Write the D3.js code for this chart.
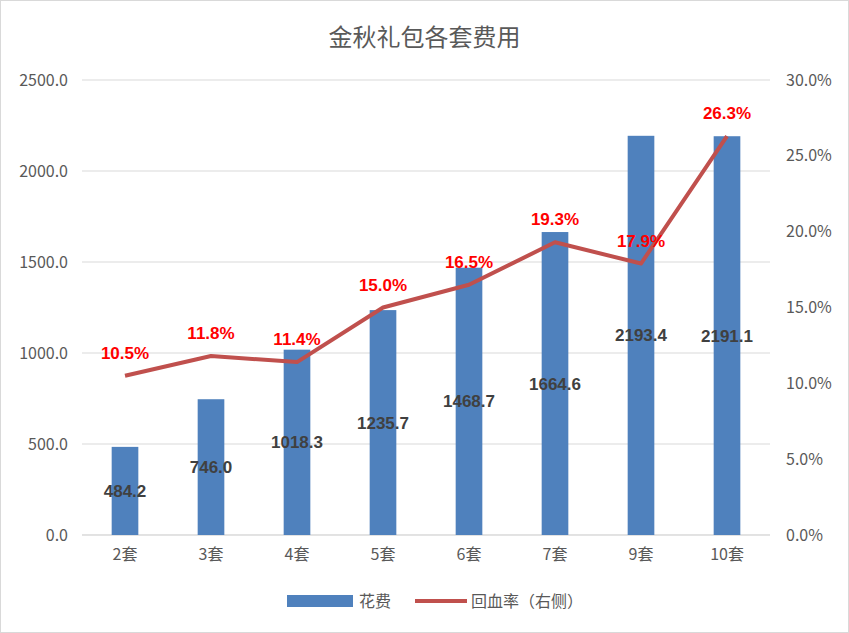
<!DOCTYPE html>
<html><head><meta charset="utf-8">
<script src="https://cdn.jsdelivr.net/npm/d3@7"></script>
<style>body{margin:0;background:#fff;font-family:"Noto Sans CJK SC","Microsoft YaHei",sans-serif;}</style>
</head><body><div id="chart"></div>
<script>
var categories = ["2套","3套","4套","5套","6套","7套","9套","10套"];
var costs = [484.2, 746.0, 1018.3, 1235.7, 1468.7, 1664.6, 2193.4, 2191.1];
var rates = [10.5, 11.8, 11.4, 15.0, 16.5, 19.3, 17.9, 26.3];
var leftTicks = [0, 500, 1000, 1500, 2000, 2500];
var rightTicks = [0, 5, 10, 15, 20, 25, 30];

var W = 849, H = 633;
var margin = {top: 80, left: 82, right: 79, bottom: 98};
var cw = W - margin.left - margin.right, ch = H - margin.top - margin.bottom;

var svg = d3.select("#chart").append("svg").attr("width", W).attr("height", H);
svg.append("rect").attr("x", 0.5).attr("y", 0.5).attr("width", W - 1).attr("height", H - 1)
  .attr("fill", "#fff").attr("stroke", "#d9d9d9");

svg.append("text").attr("x", W / 2).attr("y", 46).attr("text-anchor", "middle")
  .style("font-size", "24px").style("fill", "#595959").text("金秋礼包各套费用");

var g = svg.append("g").attr("transform", `translate(${margin.left},${margin.top})`);
var x = d3.scaleBand().domain(categories).range([0, cw]).paddingInner(0.69).paddingOuter(0.345);
var yL = d3.scaleLinear().domain([0, 2500]).range([ch, 0]);
var yR = d3.scaleLinear().domain([0, 30]).range([ch, 0]);

g.selectAll(".grid").data(leftTicks).enter().append("line")
  .attr("x1", 0).attr("x2", cw).attr("y1", d => yL(d)).attr("y2", d => yL(d))
  .attr("stroke", "#d9d9d9");

var axL = g.append("g").call(d3.axisLeft(yL).tickValues(leftTicks).tickFormat(d3.format(".1f")).tickSize(0).tickPadding(14));
var axR = g.append("g").attr("transform", `translate(${cw},0)`)
  .call(d3.axisRight(yR).tickValues(rightTicks).tickFormat(d => d.toFixed(1) + "%").tickSize(0).tickPadding(16));
var axB = g.append("g").attr("transform", `translate(0,${ch})`).call(d3.axisBottom(x).tickSize(0).tickPadding(14));
[axL, axR, axB].forEach(a => {
  a.select(".domain").remove();
  a.selectAll("text").style("font-size", "16px").style("fill", "#595959")
    .style("font-family", "'Noto Sans CJK SC',sans-serif");
});
g.append("line").attr("x1", 0).attr("x2", cw).attr("y1", ch).attr("y2", ch).attr("stroke", "#d9d9d9");

g.selectAll(".bar").data(costs).enter().append("rect")
  .attr("x", (d, i) => x(categories[i])).attr("width", x.bandwidth())
  .attr("y", d => yL(d)).attr("height", d => ch - yL(d)).attr("fill", "#4F81BD");

g.selectAll(".blab").data(costs).enter().append("text")
  .attr("x", (d, i) => x(categories[i]) + x.bandwidth() / 2)
  .attr("y", d => (yL(d) + ch) / 2 + 6).attr("text-anchor", "middle")
  .style("font-size", "17px").style("font-weight", "bold").style("fill", "#404040")
  .style("font-family", "'Liberation Sans',sans-serif")
  .text(d => d.toFixed(1));

var line = d3.line().x((d, i) => x(categories[i]) + x.bandwidth() / 2).y(d => yR(d));
g.append("path").datum(rates).attr("d", line).attr("fill", "none")
  .attr("stroke", "#C0504D").attr("stroke-width", 4).attr("stroke-linejoin", "round");

g.selectAll(".rlab").data(rates).enter().append("text")
  .attr("x", (d, i) => x(categories[i]) + x.bandwidth() / 2)
  .attr("y", d => yR(d) - 17).attr("text-anchor", "middle")
  .style("font-size", "17px").style("font-weight", "bold").style("fill", "#FF0000")
  .style("font-family", "'Liberation Sans',sans-serif")
  .text(d => d.toFixed(1) + "%");

var lg = svg.append("g").attr("transform", "translate(287,601)");
lg.append("rect").attr("x", 0).attr("y", -6).attr("width", 66).attr("height", 12).attr("fill", "#4F81BD");
lg.append("text").attr("x", 72).attr("y", 6).style("font-size", "16px").style("fill", "#595959").text("花费");
lg.append("line").attr("x1", 128).attr("x2", 180).attr("y1", 0).attr("y2", 0)
  .attr("stroke", "#C0504D").attr("stroke-width", 4);
lg.append("text").attr("x", 184).attr("y", 6).style("font-size", "16px").style("fill", "#595959").text("回血率（右侧）");
</script></body></html>
